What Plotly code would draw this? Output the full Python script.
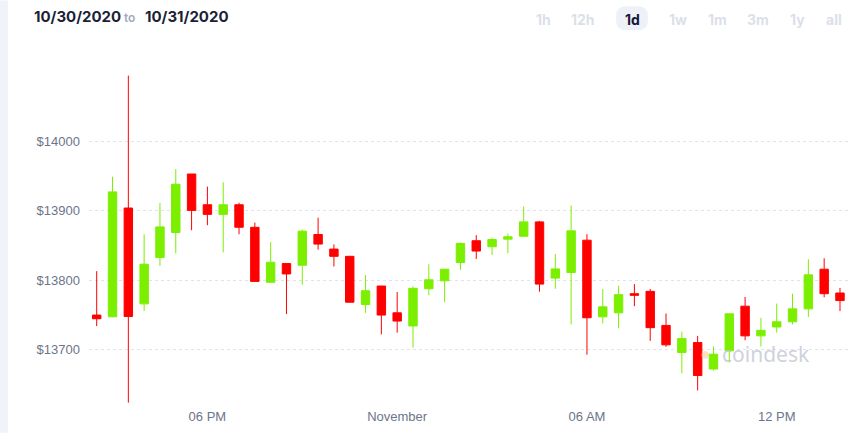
import pandas as pd
import plotly.graph_objects as go

# 30-minute candles, 10/30/2020 14:30 -> 10/31/2020 14:00
times = pd.date_range("2020-10-30 14:30", periods=48, freq="30min")

opens = [13749.9, 13747.4, 13903.7, 13766.0, 13832.5, 13868.5, 13952.6, 13908.4,
         13894.6, 13908.4, 13876.0, 13797.0, 13823.9, 13821.5, 13865.7, 13844.7,
         13834.3, 13765.0, 13791.6, 13753.1, 13734.2, 13787.7, 13799.1, 13825.4,
         13856.7, 13848.1, 13859.0, 13863.2, 13883.8, 13803.0, 13811.1, 13857.5,
         13747.4, 13753.1, 13780.6, 13784.0, 13735.0, 13696.2, 13710.4, 13672.4,
         13698.6, 13762.7, 13720.0, 13732.8, 13740.3, 13758.8, 13815.8, 13781.6]
highs = [13813.0, 13948.7, 14094.0, 13866.0, 13911.0, 13959.7, 13952.6, 13934.5,
         13940.7, 13911.3, 13882.8, 13854.7, 13824.0, 13872.8, 13889.9, 13851.4,
         13835.0, 13807.3, 13792.0, 13783.0, 13791.2, 13822.9, 13816.0, 13854.3,
         13864.7, 13861.0, 13867.1, 13906.0, 13885.2, 13837.6, 13907.4, 13866.1,
         13787.3, 13792.0, 13794.4, 13787.3, 13752.1, 13726.1, 13720.0, 13704.7,
         13752.0, 13775.9, 13746.0, 13766.4, 13780.6, 13830.1, 13831.5, 13788.8]
lows = [13734.0, 13747.0, 13624.0, 13755.6, 13820.5, 13838.6, 13871.8, 13879.0,
        13840.0, 13866.0, 13798.0, 13797.0, 13751.3, 13793.4, 13843.9, 13819.7,
        13768.0, 13753.1, 13722.2, 13724.6, 13703.3, 13778.3, 13768.4, 13814.8,
        13830.5, 13836.2, 13838.6, 13863.0, 13783.5, 13787.7, 13736.5, 13692.9,
        13737.9, 13730.8, 13762.7, 13712.8, 13704.3, 13666.2, 13641.6, 13670.0,
        13681.9, 13713.7, 13704.7, 13724.6, 13736.5, 13747.0, 13775.5, 13755.6]
closes = [13744.6, 13926.9, 13747.9, 13823.0, 13876.6, 13937.9, 13900.3, 13894.6,
          13908.4, 13876.1, 13798.3, 13825.8, 13809.0, 13870.4, 13851.9, 13834.3,
          13768.4, 13784.9, 13749.9, 13741.3, 13788.3, 13800.6, 13815.8, 13852.8,
          13841.9, 13858.5, 13862.4, 13883.8, 13794.4, 13816.2, 13870.9, 13746.0,
          13761.7, 13779.2, 13778.3, 13731.8, 13707.1, 13716.1, 13663.0, 13693.7,
          13751.7, 13720.0, 13727.9, 13740.3, 13758.8, 13807.7, 13780.6, 13770.7]

y_ticks = [13700, 13800, 13900, 14000]
y_ticktext = ["$13700", "$13800", "$13900", "$14000"]
x_ticks = ["2020-10-30 18:00", "2020-10-31 00:00", "2020-10-31 06:00", "2020-10-31 12:00"]
x_ticktext = ["06 PM", "November", "06 AM", "12 PM"]
ranges = ["1h", "12h", "1d", "1w", "1m", "3m", "1y", "all"]
range_x = [543, 583, 632, 678, 717, 758, 797, 834]

GREEN = "#7cef00"
RED = "#ff0000"

fig = go.Figure()
fig.add_trace(go.Candlestick(
    x=times, open=opens, high=highs, low=lows, close=closes,
    increasing=dict(line=dict(color=GREEN, width=1), fillcolor=GREEN),
    decreasing=dict(line=dict(color=RED, width=1), fillcolor=RED),
    whiskerwidth=0, hoverinfo="skip", showlegend=False,
))

W, H = 865, 436
L, R, T, B = 89, 848, 60, 410

x0 = pd.Timestamp("2020-10-30 14:30") - pd.Timedelta(minutes=14.6)
x1 = pd.Timestamp("2020-10-31 14:00") + pd.Timedelta(minutes=15.2)


def px(xp):
    return (xp - L) / (R - L)


def py(yp):
    return (B - yp) / (B - T)


pill = ("M -6,-12 L 6,-12 Q 16,-12 16,-2 L 16,2 Q 16,12 6,12 L -6,12 "
        "Q -16,12 -16,2 L -16,-2 Q -16,-12 -6,-12 Z")

fig.update_layout(
    width=W, height=H,
    margin=dict(l=L, r=W - R, t=T, b=H - B, pad=0),
    paper_bgcolor="white", plot_bgcolor="white",
    boxgap=0.24,
    font=dict(family="Liberation Sans, Arial, sans-serif", color="#6c7589", size=13),
    xaxis=dict(
        range=[x0, x1], rangeslider=dict(visible=False),
        tickvals=x_ticks, ticktext=x_ticktext, showgrid=False, zeroline=False,
        showline=False, ticks="", tickfont=dict(size=13, color="#6c7589"),
    ),
    yaxis=dict(
        range=[13617.8, 14116.4], tickvals=y_ticks, ticktext=y_ticktext,
        showgrid=True, gridcolor="#dfe3ef", griddash="dot", gridwidth=1,
        zeroline=False, showline=False, ticks="", ticklabelstandoff=8,
        tickfont=dict(size=13, color="#6c7589"),
    ),
    shapes=[
        dict(type="rect", xref="paper", yref="paper", x0=-L / (R - L), x1=(8 - L) / (R - L),
             y0=-(H - B) / (B - T), y1=1 + T / (B - T), fillcolor="#f0f3f9", line=dict(width=0),
             layer="below"),
        dict(type="path", xref="paper", yref="paper", xsizemode="pixel", ysizemode="pixel",
             xanchor=px(632), yanchor=py(18), path=pill,
             fillcolor="#eef1f8", line=dict(width=0), layer="below"),
    ],
)

ann = []
ann.append(dict(text="10/30/2020", x=px(32), y=py(16), xanchor="left", yanchor="middle",
                font=dict(family="Inter, sans-serif", size=15, color="#1c1f36", weight=700)))
ann.append(dict(text="to", x=px(122), y=py(17), xanchor="left", yanchor="middle",
                font=dict(family="Inter, sans-serif", size=12, color="#a3a9bb", weight=600)))
ann.append(dict(text="10/31/2020", x=px(143), y=py(16), xanchor="left", yanchor="middle",
                font=dict(family="Inter, sans-serif", size=15, color="#1c1f36", weight=700)))
for lab, xc in zip(ranges, range_x):
    active = lab == "1d"
    ann.append(dict(text=lab, x=px(xc), y=py(19), xanchor="center", yanchor="middle",
                    font=dict(family="Inter, sans-serif", size=14,
                              color="#141833" if active else "#dcdfe9", weight=700)))
ann.append(dict(text="coindesk", x=px(720), y=py(357), xanchor="left", yanchor="middle",
                font=dict(family="Noto Sans, sans-serif", size=21, color="#bfc4d1"), opacity=0.75))
ann.append(dict(text="●", x=px(705), y=py(357), xanchor="center", yanchor="middle",
                font=dict(size=18, color="#f7c98a"), opacity=0.5))
for a in ann:
    a.update(xref="paper", yref="paper", showarrow=False)
fig.update_layout(annotations=ann)

fig.write_html("out.html")
